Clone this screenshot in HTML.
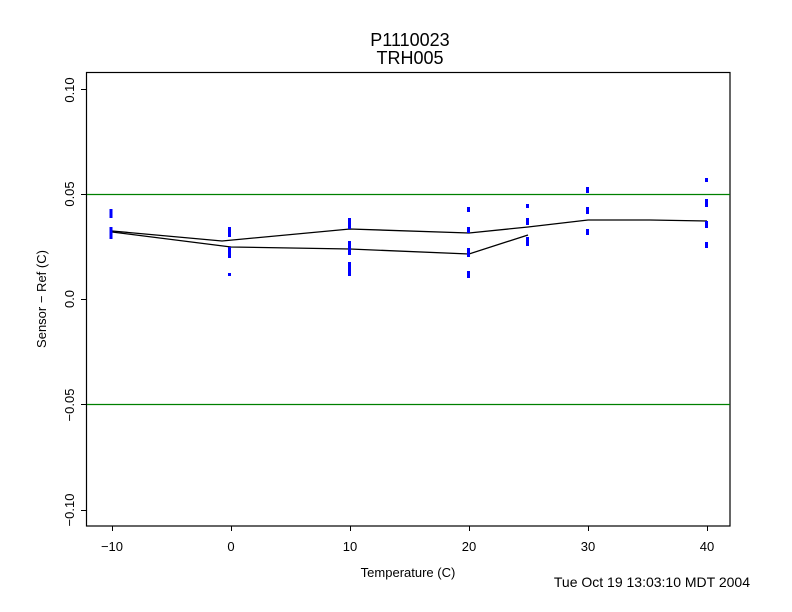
<!DOCTYPE html>
<html><head><style>body{margin:0;background:#fff}svg{display:block}</style></head>
<body>
<svg width="792" height="612" xmlns="http://www.w3.org/2000/svg" font-family="Liberation Sans, sans-serif">
<rect width="792" height="612" fill="#fff"/>
<text x="410" y="46" font-size="18" text-anchor="middle">P1110023</text>
<text x="410" y="64" font-size="18" text-anchor="middle">TRH005</text>
<rect x="86.5" y="72.5" width="643.5" height="453.5" fill="none" stroke="#000" stroke-width="1.2"/>
<line x1="87" y1="194.5" x2="730" y2="194.5" stroke="#008000" stroke-width="1.2"/>
<line x1="87" y1="404.5" x2="730" y2="404.5" stroke="#008000" stroke-width="1.2"/>
<g stroke="#000" stroke-width="1">
<line x1="112.5" y1="526" x2="112.5" y2="531"/><line x1="231.5" y1="526" x2="231.5" y2="531"/>
<line x1="350.5" y1="526" x2="350.5" y2="531"/><line x1="469.5" y1="526" x2="469.5" y2="531"/>
<line x1="588.5" y1="526" x2="588.5" y2="531"/><line x1="707.5" y1="526" x2="707.5" y2="531"/>
<line x1="81" y1="89.5" x2="86" y2="89.5"/><line x1="81" y1="194.5" x2="86" y2="194.5"/>
<line x1="81" y1="299.5" x2="86" y2="299.5"/><line x1="81" y1="404.5" x2="86" y2="404.5"/>
<line x1="81" y1="510.5" x2="86" y2="510.5"/>
</g>
<g font-size="13" text-anchor="middle">
<text x="112" y="551">−10</text><text x="231" y="551">0</text><text x="350" y="551">10</text>
<text x="469" y="551">20</text><text x="588" y="551">30</text><text x="707" y="551">40</text>
<text transform="translate(74,90) rotate(-90)">0.10</text>
<text transform="translate(74,194) rotate(-90)">0.05</text>
<text transform="translate(74,299) rotate(-90)">0.0</text>
<text transform="translate(74,405) rotate(-90)">−0.05</text>
<text transform="translate(74,510) rotate(-90)">−0.10</text>
<text x="408" y="577">Temperature (C)</text>
<text transform="translate(46,299) rotate(-90)">Sensor − Ref (C)</text>
</g>
<text x="750" y="587" font-size="14" text-anchor="end">Tue Oct 19 13:03:10 MDT 2004</text>
<polyline fill="none" stroke="#000" stroke-width="1.3" points="112,231 222,241 350,229 469,233 528,227 588,220 650,220 707,221"/>
<polyline fill="none" stroke="#000" stroke-width="1.3" points="112,232 231,247 350,249 469,254 528,235"/>
<g stroke="#0000ff" stroke-width="3">
<line x1="111" y1="209" x2="111" y2="218"/><line x1="111" y1="227" x2="111" y2="239"/>
<line x1="229.5" y1="227" x2="229.5" y2="237"/><line x1="229.5" y1="247" x2="229.5" y2="258"/><line x1="229.5" y1="273" x2="229.5" y2="276"/>
<line x1="349.5" y1="218" x2="349.5" y2="229"/><line x1="349.5" y1="241" x2="349.5" y2="255"/><line x1="349.5" y1="262" x2="349.5" y2="276"/>
<line x1="468.5" y1="207" x2="468.5" y2="212"/><line x1="468.5" y1="227" x2="468.5" y2="233"/><line x1="468.5" y1="248" x2="468.5" y2="257"/><line x1="468.5" y1="271" x2="468.5" y2="278"/>
<line x1="527.5" y1="204" x2="527.5" y2="208"/><line x1="527.5" y1="218" x2="527.5" y2="225"/><line x1="527.5" y1="237" x2="527.5" y2="246"/>
<line x1="587.5" y1="187" x2="587.5" y2="193"/><line x1="587.5" y1="207" x2="587.5" y2="214"/><line x1="587.5" y1="229" x2="587.5" y2="235"/>
<line x1="706.5" y1="178" x2="706.5" y2="182"/><line x1="706.5" y1="199" x2="706.5" y2="207"/><line x1="706.5" y1="221" x2="706.5" y2="228"/><line x1="706.5" y1="242" x2="706.5" y2="248"/>
</g>
</svg>
</body></html>
